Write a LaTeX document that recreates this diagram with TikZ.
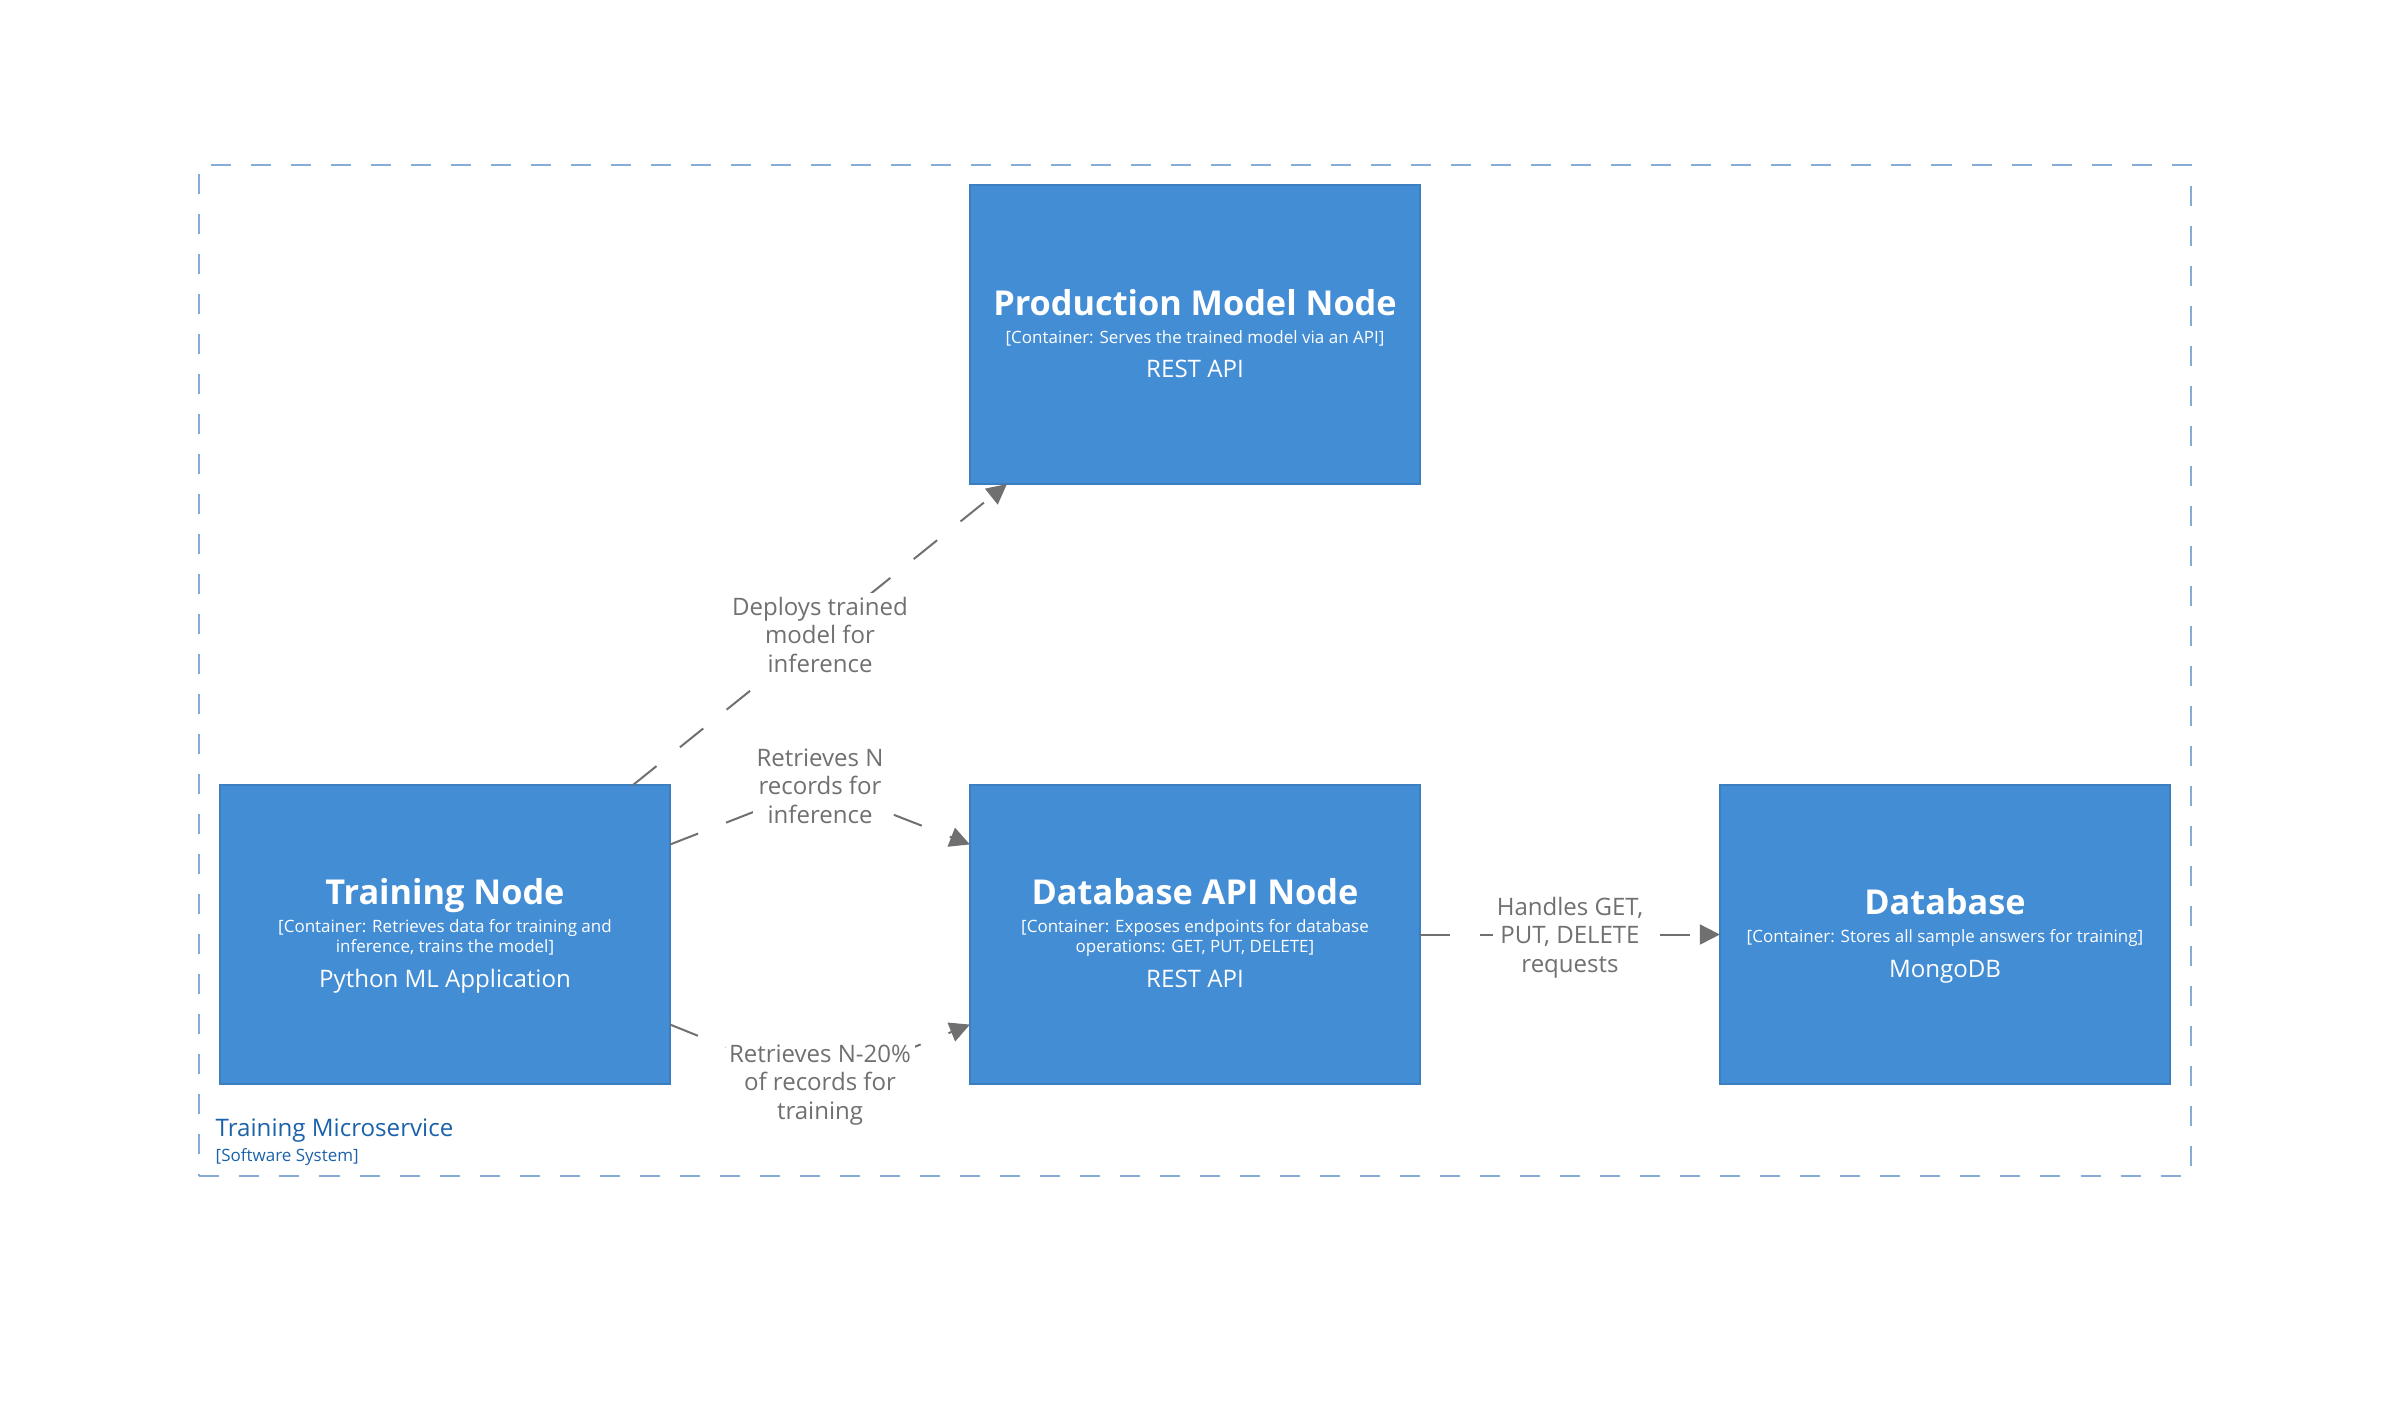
\documentclass[tikz,border=0pt]{standalone}
\usepackage{fontspec}
\setmainfont{Open Sans}
\usetikzlibrary{arrows.meta,calc}
\definecolor{boxfill}{HTML}{438DD5}
\definecolor{boxline}{HTML}{3C7FC0}
\definecolor{conn}{HTML}{707070}
\definecolor{bnd}{HTML}{86ACD7}
\definecolor{bndtext}{HTML}{1B62AA}
\begin{document}
\begin{tikzpicture}[x=0.01cm,y=-0.01cm,
  container/.style={draw=boxline, fill=boxfill, line width=0.57pt, minimum width=4.5cm, minimum height=2.99cm, inner sep=0pt, outer sep=0pt},
  ttl/.style={anchor=base, text=white, font=\fontsize{9.75}{11}\selectfont\bfseries, inner sep=0pt},
  dsc/.style={anchor=base, text=white, font=\fontsize{4.83}{6}\selectfont, inner sep=0pt},
  tech/.style={anchor=base, text=white, font=\fontsize{6.85}{8}\selectfont, inner sep=0pt},
  rel/.style={draw=conn, line width=0.57pt, dash pattern=on 0.3cm off 0.3cm, -{Triangle[length=0.2cm,width=0.2cm]}},
  lbl/.style={fill=white, text=conn, align=center, inner sep=1pt, font=\fontsize{6.83}{8.1}\selectfont},
  sysbound/.style={draw=bnd, line width=0.57pt, dash pattern=on 0.2cm off 0.2cm, minimum width=19.9cm, minimum height=10.11cm, inner sep=0pt, outer sep=0pt}
]
\useasboundingbox (0,0) rectangle (2390,1411);

% boundary
\node[sysbound] (sys) at (1195,670.5) {};
\node[anchor=base west, inner sep=0pt, text=bndtext, font=\fontsize{6.86}{8}\selectfont] (systitle) at (215,1136) {Training Microservice};
\node[anchor=base west, inner sep=0pt, text=bndtext, font=\fontsize{4.83}{6}\selectfont] (systype) at (215,1161) {[Software System]};

% containers
\node[container] (prod) at (1195,334.5) {};
\node[container] (train) at (445,934.5) {};
\node[container] (dbapi) at (1195,934.5) {};
\node[container] (db) at (1945,934.5) {};

\node[ttl] (prodt) at (1195,315) {Production Model Node};
\node[dsc] (prodd) at (1195,343) {[Container: Serves the trained model via an API]};
\node[tech] (prodk) at (1195,377) {REST API};

\node[ttl] (traint) at (445,904) {Training Node};
\node[dsc] (traind1) at (445,932) {[Container: Retrieves data for training and};
\node[dsc] (traind2) at (445,952) {inference, trains the model]};
\node[tech] (traink) at (445,987) {Python ML Application};

\node[ttl] (dbapit) at (1195,904) {Database API Node};
\node[dsc] (dbapid1) at (1195,932) {[Container: Exposes endpoints for database};
\node[dsc] (dbapid2) at (1195,952) {operations: GET, PUT, DELETE]};
\node[tech] (dbapik) at (1195,987) {REST API};

\node[ttl] (dbt) at (1945,914) {Database};
\node[dsc] (dbd) at (1945,942) {[Container: Stores all sample answers for training]};
\node[tech] (dbk) at (1945,977) {MongoDB};

% relationships
\coordinate (k1) at (820,786);
\coordinate (k2) at (820,1085);

\draw[rel] ([xshift=1.88cm]train.north) -- ([xshift=-1.88cm]prod.south)
  node[midway, lbl] (l0) {Deploys trained\\model for\\inference};

\draw[rel] ([yshift=0.9cm]train.east) -- (k1) -- ([yshift=0.9cm]dbapi.west);
\node[lbl] (l1) at (k1) {Retrieves N\\records for\\inference};

\draw[rel] ([yshift=-0.9cm]train.east) -- (k2) -- ([yshift=-0.9cm]dbapi.west);
\node[lbl] (l2) at (k2) {Retrieves N-20\%\\of records for\\training};

\draw[rel] (dbapi.east) -- (db.west)
  node[midway, lbl, yshift=-0.03cm] (l3) {Handles GET,\\PUT, DELETE\\requests};
\end{tikzpicture}
\end{document}
